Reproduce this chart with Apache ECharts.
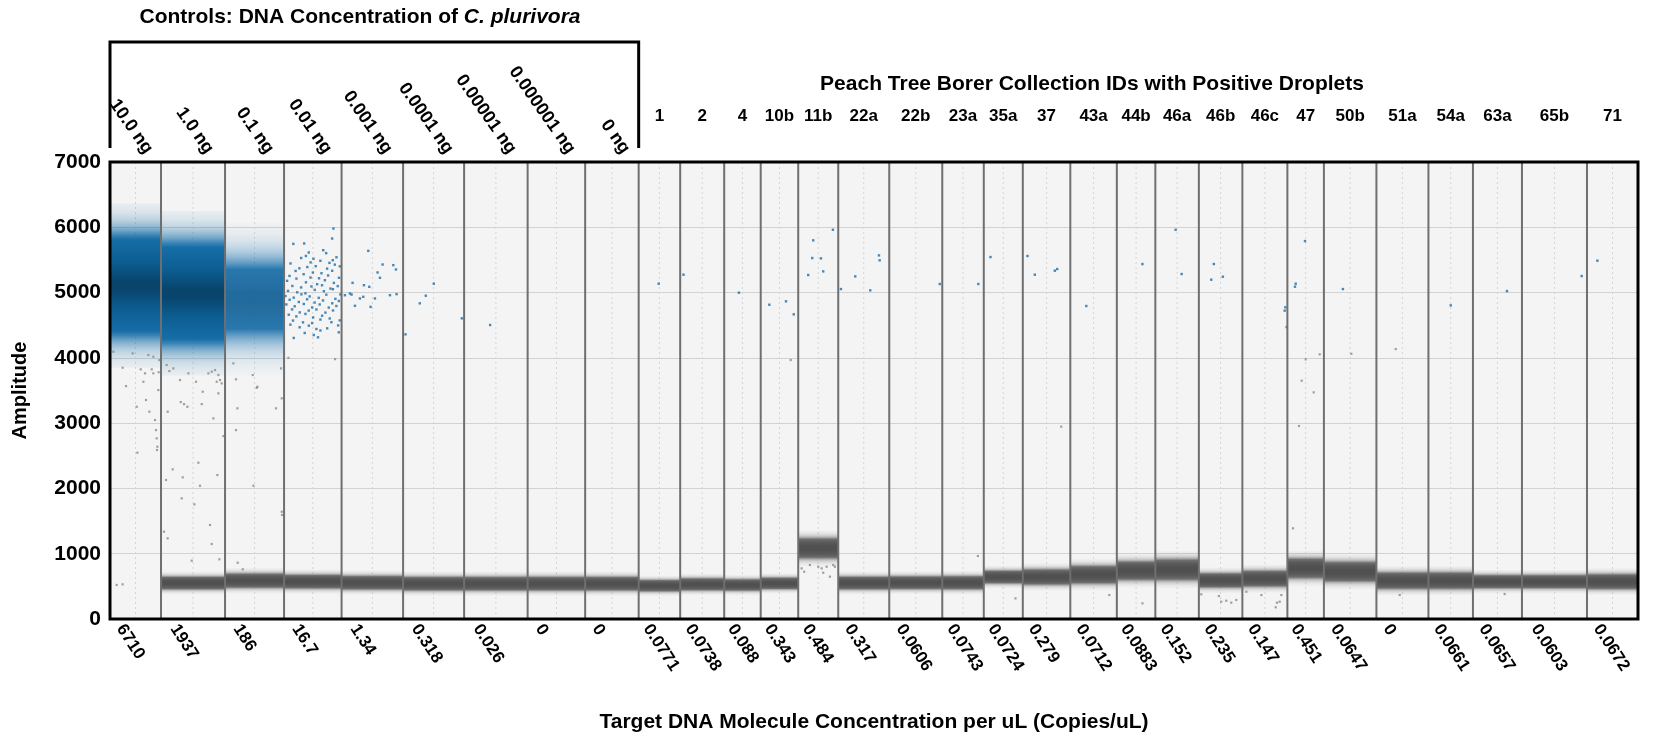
<!DOCTYPE html>
<html>
<head>
<meta charset="utf-8">
<script src="https://cdn.jsdelivr.net/npm/echarts@6/dist/echarts.min.js"></script>
<style>
  html, body { margin: 0; padding: 0; background: #ffffff; }
  #chart { width: 1654px; height: 735px; }
</style>
</head>
<body>
<div id="chart"></div>
<script>
// ---- Wells (controls first, then field samples) ----
const controlNames = ['10.0 ng', '1.0 ng', '0.1 ng', '0.01 ng', '0.001 ng', '0.0001 ng', '0.00001 ng', '0.000001 ng', '0 ng'];
const sampleNames = ['1', '2', '4', '10b', '11b', '22a', '22b', '23a', '35a', '37', '43a', '44b', '46a', '46b', '46c', '47', '50b', '51a', '54a', '63a', '65b', '71'];
const wellNames = controlNames.concat(sampleNames);

// accepted droplets per well (event count along the x axis)
const dropletCounts = [10200, 12800, 11800, 11500, 12300, 12200, 12700, 11500, 10700,
  8300, 8800, 7300, 7500, 8000, 10200, 10600, 8300, 7800, 9500, 9300, 7700, 8700, 8700, 9000, 7300, 10500, 10400, 8900, 9800, 13000, 10200];

// target concentration, copies/uL
const concentrations = ['6710', '1937', '186', '16.7', '1.34', '0.318', '0.026', '0', '0',
  '0.0771', '0.0738', '0.088', '0.343', '0.484', '0.317', '0.0606', '0.0743', '0.0724', '0.279', '0.0712', '0.0883', '0.152', '0.235', '0.147', '0.451', '0.0647', '0', '0.0661', '0.0657', '0.0603', '0.0672'];

// negative droplet cluster: mean amplitude and spread
const negCenter = [null, 551, 587, 572, 556, 541, 541, 541, 541,
  510, 531, 521, 546, 1083, 551, 556, 556, 643, 643, 679, 740, 755, 592, 618, 776, 725, 587, 587, 572, 572, 572];
const negSpread = [0, 58, 65, 62, 62, 62, 62, 62, 62,
  52, 55, 52, 52, 92, 58, 58, 60, 58, 70, 80, 85, 95, 65, 72, 90, 90, 75, 75, 60, 60, 68];

// saturated positive clusters in the high-template controls
const posCenter = [5110, 4990, 4900];
const posSpread = [420, 420, 390];
const posDensity = [4.5, 4.5, 1.8];

// individual positive droplets: [well, droplet index in well, amplitude]
const positiveDroplets = [
  ['0.01 ng', 9870, 5981], ['0.01 ng', 9610, 5828], ['0.01 ng', 1850, 5746], ['0.01 ng', 4020, 5752], ['0.01 ng', 4940, 5614],
  ['0.01 ng', 7830, 5649], ['0.01 ng', 8420, 5604], ['0.01 ng', 4370, 5561], ['0.01 ng', 3420, 5530], ['0.01 ng', 5880, 5518],
  ['0.01 ng', 10480, 5541], ['0.01 ng', 9740, 5496], ['0.01 ng', 1290, 5446], ['0.01 ng', 5310, 5462], ['0.01 ng', 7260, 5487],
  ['0.01 ng', 9080, 5455], ['0.01 ng', 3060, 5372], ['0.01 ng', 4650, 5391], ['0.01 ng', 6330, 5404], ['0.01 ng', 8610, 5366],
  ['0.01 ng', 10150, 5428], ['0.01 ng', 11150, 5402], ['0.01 ng', 2310, 5331], ['0.01 ng', 5760, 5307], ['0.01 ng', 7480, 5296],
  ['0.01 ng', 9620, 5334], ['0.01 ng', 1090, 5255], ['0.01 ng', 3920, 5281], ['0.01 ng', 5290, 5230], ['0.01 ng', 6990, 5219],
  ['0.01 ng', 8810, 5262], ['0.01 ng', 10980, 5226], ['0.01 ng', 610, 5180], ['0.01 ng', 2470, 5214], ['0.01 ng', 4380, 5157],
  ['0.01 ng', 6610, 5128], ['0.01 ng', 8160, 5189], ['0.01 ng', 9960, 5148], ['0.01 ng', 1660, 5101], ['0.01 ng', 3410, 5079],
  ['0.01 ng', 5470, 5094], ['0.01 ng', 7590, 5112], ['0.01 ng', 9280, 5061], ['0.01 ng', 10730, 5099], ['0.01 ng', 790, 5026],
  ['0.01 ng', 2620, 5004], ['0.01 ng', 4270, 4988], ['0.01 ng', 6140, 5041], ['0.01 ng', 7960, 5021], ['0.01 ng', 9770, 5052],
  ['0.01 ng', 11260, 4971], ['0.01 ng', 280, 4947], ['0.01 ng', 1930, 4922], ['0.01 ng', 3470, 4973], ['0.01 ng', 5130, 4941],
  ['0.01 ng', 6930, 4919], ['0.01 ng', 8450, 4968], ['0.01 ng', 10260, 4904], ['0.01 ng', 1120, 4890], ['0.01 ng', 2950, 4856],
  ['0.01 ng', 4610, 4897], ['0.01 ng', 6110, 4847], ['0.01 ng', 7790, 4879], ['0.01 ng', 9630, 4836], ['0.01 ng', 10950, 4871],
  ['0.01 ng', 460, 4818], ['0.01 ng', 2130, 4790], ['0.01 ng', 3950, 4825], ['0.01 ng', 5620, 4772], ['0.01 ng', 7120, 4818],
  ['0.01 ng', 8940, 4770], ['0.01 ng', 10460, 4794], ['0.01 ng', 1610, 4742], ['0.01 ng', 3130, 4696], ['0.01 ng', 4930, 4724],
  ['0.01 ng', 6470, 4741], ['0.01 ng', 8270, 4693], ['0.01 ng', 9790, 4726], ['0.01 ng', 940, 4661], ['0.01 ng', 2460, 4635],
  ['0.01 ng', 4280, 4673], ['0.01 ng', 5810, 4619], ['0.01 ng', 7610, 4645], ['0.01 ng', 9130, 4603], ['0.01 ng', 1790, 4571],
  ['0.01 ng', 3790, 4544], ['0.01 ng', 5610, 4533], ['0.01 ng', 7270, 4587], ['0.01 ng', 9470, 4546], ['0.01 ng', 11130, 4574],
  ['0.01 ng', 1260, 4509], ['0.01 ng', 3120, 4468], ['0.01 ng', 4950, 4493], ['0.01 ng', 6470, 4442], ['0.01 ng', 8620, 4452],
  ['0.01 ng', 10810, 4497], ['0.01 ng', 4130, 4381], ['0.01 ng', 5940, 4350], ['0.01 ng', 7270, 4419], ['0.01 ng', 1940, 4305],
  ['0.01 ng', 6790, 4315], ['0.01 ng', 10940, 4391],
  ['0.001 ng', 5340, 5639], ['0.001 ng', 8200, 5430], ['0.001 ng', 10340, 5420], ['0.001 ng', 10870, 5354], ['0.001 ng', 7200, 5308],
  ['0.001 ng', 7670, 5226], ['0.001 ng', 2200, 5149], ['0.001 ng', 4470, 5113], ['0.001 ng', 5540, 5088], ['0.001 ng', 670, 4960],
  ['0.001 ng', 1670, 4986], ['0.001 ng', 2000, 4970], ['0.001 ng', 3670, 4910], ['0.001 ng', 4340, 4935], ['0.001 ng', 6670, 4910],
  ['0.001 ng', 9670, 4960], ['0.001 ng', 11000, 4976], ['0.001 ng', 2670, 4797], ['0.001 ng', 5800, 4781],
  ['0.0001 ng', 480, 4360], ['0.0001 ng', 3340, 4835], ['0.0001 ng', 4540, 4952], ['0.0001 ng', 6140, 5136], ['0.0001 ng', 11740, 4605],
  ['0.00001 ng', 5200, 4503],
  ['1', 4000, 5136], ['2', 660, 5274], ['4', 2940, 4998],
  ['10b', 1720, 4814], ['10b', 5060, 4866], ['10b', 6600, 4667],
  ['11b', 3000, 5800], ['11b', 2800, 5529], ['11b', 4540, 5524], ['11b', 2000, 5269], ['11b', 5000, 5325], ['11b', 6940, 5962],
  ['22a', 540, 5054], ['22a', 3400, 5248], ['22a', 6400, 5034], ['22a', 8140, 5570], ['22a', 8280, 5494],
  ['22b', 10100, 5131], ['23a', 7200, 5131], ['35a', 1340, 5544],
  ['37', 940, 5560], ['37', 2400, 5274], ['37', 6400, 5335], ['37', 6880, 5360],
  ['43a', 3200, 4794], ['44b', 5120, 5437], ['46a', 4060, 5962], ['46a', 5260, 5284],
  ['46b', 3000, 5437], ['46b', 2480, 5197], ['46b', 4800, 5243],
  ['46c', 8600, 4774], ['46c', 8460, 4723], ['46c', 8860, 4472],
  ['47', 3520, 5789], ['47', 1660, 5136], ['47', 1520, 5090],
  ['50b', 3800, 5054], ['54a', 4460, 4804], ['63a', 6800, 5023], ['65b', 11940, 5253], ['71', 2080, 5488]
];

// rain and outlying negative droplets: [well, droplet index in well, amplitude]
const otherDroplets = [
  ['10.0 ng', 670, 4094], ['10.0 ng', 2530, 3849], ['10.0 ng', 3200, 3568], ['10.0 ng', 4540, 4069], ['10.0 ng', 5340, 3251],
  ['10.0 ng', 5470, 2547], ['10.0 ng', 6670, 3634], ['10.0 ng', 6140, 3824], ['10.0 ng', 7000, 3763], ['10.0 ng', 7200, 3354],
  ['10.0 ng', 7870, 3175], ['10.0 ng', 8340, 3824], ['10.0 ng', 8670, 3763], ['10.0 ng', 9000, 3047], ['10.0 ng', 9200, 2894],
  ['10.0 ng', 9340, 2767], ['10.0 ng', 9470, 2639], ['10.0 ng', 9400, 2588], ['10.0 ng', 9670, 3507], ['10.0 ng', 9720, 3780],
  ['10.0 ng', 9870, 3966], ['10.0 ng', 7670, 4043], ['10.0 ng', 8670, 4017], ['10.0 ng', 1330, 521], ['10.0 ng', 2530, 531],
  ['1.0 ng', 1130, 3890], ['1.0 ng', 1670, 3798], ['1.0 ng', 2470, 3839], ['1.0 ng', 3800, 3660], ['1.0 ng', 5470, 3763],
  ['1.0 ng', 7000, 3634], ['1.0 ng', 3940, 3323], ['1.0 ng', 4600, 3292], ['1.0 ng', 5270, 3251], ['1.0 ng', 8140, 3292],
  ['1.0 ng', 1330, 3175], ['1.0 ng', 8340, 3481], ['1.0 ng', 9470, 3763], ['1.0 ng', 10140, 3788], ['1.0 ng', 10800, 3813],
  ['1.0 ng', 11470, 3737], ['1.0 ng', 11140, 3634], ['1.0 ng', 11800, 3660], ['1.0 ng', 12140, 3609], ['1.0 ng', 11470, 3456],
  ['1.0 ng', 10470, 3073], ['1.0 ng', 12470, 2802], ['1.0 ng', 2330, 2292], ['1.0 ng', 1000, 2129], ['1.0 ng', 4340, 2170],
  ['1.0 ng', 7800, 2041], ['1.0 ng', 7470, 2394], ['1.0 ng', 4140, 1848], ['1.0 ng', 6670, 1756], ['1.0 ng', 9800, 1440],
  ['1.0 ng', 10140, 1149], ['1.0 ng', 11270, 2205], ['1.0 ng', 600, 1337], ['1.0 ng', 1330, 1236], ['1.0 ng', 6140, 893],
  ['1.0 ng', 11670, 914],
  ['0.1 ng', 1670, 3916], ['0.1 ng', 2200, 3671], ['0.1 ng', 2470, 3227], ['0.1 ng', 2200, 2894], ['0.1 ng', 5540, 3737],
  ['0.1 ng', 6340, 3542], ['0.1 ng', 5670, 2041], ['0.1 ng', 2530, 862], ['0.1 ng', 3540, 761], ['0.1 ng', 10200, 3227],
  ['0.1 ng', 11200, 3839], ['0.1 ng', 11340, 3380], ['0.1 ng', 11340, 1643], ['0.1 ng', 11400, 1593], ['0.1 ng', 6470, 3557],
  ['0.01 ng', 870, 4000], ['0.01 ng', 10200, 3980],
  ['10b', 6000, 3967],
  ['11b', 680, 776], ['11b', 1200, 724], ['11b', 2340, 827], ['11b', 4000, 801], ['11b', 4680, 776],
  ['11b', 5000, 709], ['11b', 5680, 801], ['11b', 6340, 648], ['11b', 7000, 827], ['11b', 7340, 801],
  ['23a', 7120, 965], ['35a', 6340, 316], ['37', 7680, 2946], ['43a', 7800, 367], ['44b', 5120, 240],
  ['46b', 480, 378], ['46b', 4000, 352], ['46b', 4480, 265], ['46b', 5480, 280], ['46b', 6480, 250], ['46b', 7480, 291],
  ['46c', 3800, 367], ['46c', 6660, 179], ['46c', 6920, 250], ['46c', 7460, 265], ['46c', 7800, 367], ['46c', 800, 418],
  ['47', 3660, 3977], ['47', 6460, 4054], ['47', 2860, 3650], ['47', 5260, 3472], ['47', 2320, 2956], ['47', 1120, 1389],
  ['50b', 5480, 4063], ['51a', 3860, 4135], ['51a', 4660, 367], ['63a', 6340, 383]
];

const amplitudeTicks = [0, 1000, 2000, 3000, 4000, 5000, 6000, 7000];

// ---- derived layout values along the event axis ----
const FONT = '"Liberation Sans", Arial, Helvetica, sans-serif';
const wellStart = [];
let runningTotal = 0;
dropletCounts.forEach(c => { wellStart.push(runningTotal); runningTotal += c; });
const totalDroplets = runningTotal;
const nControls = controlNames.length;
const ampMin = amplitudeTicks[0];
const ampMax = amplitudeTicks[amplitudeTicks.length - 1];

const wellCenter = wellStart.map((s, i) => s + dropletCounts[i] / 2);
const concAnchor = wellStart.map((s, i) => s + dropletCounts[i] * 0.2);
const controlAnchor = wellStart.slice(0, nControls).map((s, i) => s + dropletCounts[i] * 0.76);
const sampleAnchor = wellCenter.slice(nControls);

function nearestIndex(list, v) {
  let best = 0, d = Infinity;
  list.forEach((x, i) => { const dd = Math.abs(x - v); if (dd < d) { d = dd; best = i; } });
  return best;
}

function toPoint(rec) {
  const w = wellNames.indexOf(rec[0]);
  return [wellStart[w] + rec[1], rec[2]];
}

// ---- density bands for the dense droplet clusters ----
const blueTones = { knots: [0.15, 0.8, 1.8], colors: [[8, 68, 108], [12, 92, 144], [24, 112, 170]], maxAlpha: 1 };
const blueTonesThin = { knots: [0.2, 0.9, 1.8], colors: [[12, 92, 148], [16, 102, 160], [26, 116, 176]], maxAlpha: 0.9 };
const greyTones = { knots: [0.3, 1.0, 2.0], colors: [[80, 80, 80], [90, 90, 90], [130, 130, 130]], maxAlpha: 1 };

function mixRGB(a, b, t) { return a.map((v, k) => Math.round(v + (b[k] - v) * t)); }
function toneAt(tones, az) {
  const kn = tones.knots, cs = tones.colors;
  if (az <= kn[0]) return cs[0];
  for (let k = 1; k < kn.length; k++) {
    if (az <= kn[k]) return mixRGB(cs[k - 1], cs[k], (az - kn[k - 1]) / (kn[k] - kn[k - 1]));
  }
  return cs[cs.length - 1];
}
function densityBand(x0, x1, center, sd, density, tones, api) {
  const yTop = api.coord([0, center + 3 * sd])[1];
  const yBot = api.coord([0, center - 3 * sd])[1];
  const stops = [];
  const steps = 36;
  for (let s = 0; s <= steps; s++) {
    const z = 3 - 6 * s / steps;
    const a = Math.min(tones.maxAlpha, density * Math.exp(-z * z / 2));
    const c = toneAt(tones, Math.abs(z));
    stops.push({ offset: s / steps, color: 'rgba(' + c[0] + ',' + c[1] + ',' + c[2] + ',' + a.toFixed(3) + ')' });
  }
  return {
    type: 'rect',
    shape: { x: x0, y: yTop, width: x1 - x0, height: yBot - yTop },
    style: { fill: { type: 'linear', x: 0, y: 0, x2: 0, y2: 1, colorStops: stops, global: false } }
  };
}

function renderWell(params, api) {
  const i = api.value(4);
  const x0 = api.coord([api.value(0), ampMin])[0];
  const x1 = api.coord([api.value(1), ampMin])[0];
  const yTop = api.coord([0, ampMax])[1];
  const yBot = api.coord([0, ampMin])[1];
  const xm = (x0 + x1) / 2;
  const children = [{
    type: 'line', shape: { x1: xm, y1: yTop, x2: xm, y2: yBot },
    style: { stroke: '#d4d4d4', lineWidth: 1, lineDash: [2, 3] }
  }];
  if (negCenter[i] != null) children.push(densityBand(x0, x1, negCenter[i], negSpread[i], 3.2, greyTones, api));
  if (i < posCenter.length) children.push(densityBand(x0, x1, posCenter[i], posSpread[i], posDensity[i], posDensity[i] > 2 ? blueTones : blueTonesThin, api));
  return { type: 'group', children: children };
}

function renderDivider(params, api) {
  const x = api.coord([api.value(0), ampMin])[0];
  const yTop = api.coord([0, ampMax])[1];
  const yBot = api.coord([0, ampMin])[1];
  return { type: 'line', shape: { x1: x, y1: yTop, x2: x, y2: yBot }, style: { stroke: '#6f6f6f', lineWidth: 2 } };
}

function renderFrame(params, api) {
  const p0 = api.coord([0, ampMax]);
  const p1 = api.coord([totalDroplets, ampMin]);
  return { type: 'rect', shape: { x: p0[0], y: p0[1], width: p1[0] - p0[0], height: p1[1] - p0[1] },
    style: { fill: 'none', stroke: '#000', lineWidth: 3 } };
}

// bracket spanning the control wells, drawn above the plot
function renderBracket(params, api) {
  const a = api.coord([api.value(0), ampMax]);
  const b = api.coord([api.value(1), ampMax]);
  const top = a[1] - 120, low = a[1] - 14;
  return { type: 'polyline', shape: { points: [[a[0], low], [a[0], top], [b[0], top], [b[0], low]] },
    style: { fill: 'none', stroke: '#000', lineWidth: 3 } };
}

const wellItems = wellStart.map((s, i) => [s, s + dropletCounts[i], ampMin, ampMax, i]);
const dividerItems = wellStart.slice(1).map(s => [s, ampMin]);

const chart = echarts.init(document.getElementById('chart'), null, { renderer: 'canvas' });
chart.setOption({
  animation: false,
  backgroundColor: '#ffffff',
  textStyle: { fontFamily: FONT },
  grid: { left: 110, right: 16, top: 162, bottom: 116, show: true, backgroundColor: '#f4f4f4', borderWidth: 0, outerBoundsMode: 'none' },
  graphic: [
    { type: 'text', x: 360, y: 17, style: {
        text: '{b|Controls: DNA Concentration of }{bi|C. plurivora}',
        rich: {
          b: { fontSize: 21, fontWeight: 'bold', fontFamily: FONT, fill: '#000' },
          bi: { fontSize: 21, fontWeight: 'bold', fontStyle: 'italic', fontFamily: FONT, fill: '#000' }
        },
        align: 'center', verticalAlign: 'middle' } },
    { type: 'text', x: 1092, y: 84, style: {
        text: 'Peach Tree Borer Collection IDs with Positive Droplets',
        fontSize: 21, fontWeight: 'bold', fontFamily: FONT, fill: '#000',
        align: 'center', verticalAlign: 'middle' } }
  ],
  xAxis: [
    {
      type: 'value', position: 'bottom', min: 0, max: totalDroplets,
      axisLine: { show: false }, axisTick: { show: false }, splitLine: { show: false },
      axisLabel: {
        customValues: concAnchor, rotate: -57, margin: 7,
        formatter: v => concentrations[nearestIndex(concAnchor, v)],
        fontSize: 17, fontWeight: 'bold', color: '#000', fontFamily: FONT
      },
      name: 'Target DNA Molecule Concentration per uL (Copies/uL)', nameLocation: 'middle', nameGap: 93,
      nameTextStyle: { fontSize: 21, fontWeight: 'bold', color: '#000', fontFamily: FONT }
    },
    {
      type: 'value', position: 'top', min: 0, max: totalDroplets,
      axisLine: { show: false }, axisTick: { show: false }, splitLine: { show: false },
      axisLabel: {
        customValues: sampleAnchor, margin: 37,
        formatter: v => sampleNames[nearestIndex(sampleAnchor, v)],
        fontSize: 17, fontWeight: 'bold', color: '#000', fontFamily: FONT
      }
    },
    {
      type: 'value', position: 'top', min: 0, max: totalDroplets,
      axisLine: { show: false }, axisTick: { show: false }, splitLine: { show: false },
      axisLabel: {
        customValues: controlAnchor, rotate: 55, margin: 10,
        formatter: v => controlNames[nearestIndex(controlAnchor, v)],
        fontSize: 18, fontWeight: 'bold', color: '#000', fontFamily: FONT
      }
    }
  ],
  yAxis: [{
    type: 'value', min: ampMin, max: ampMax, interval: 1000,
    axisLine: { show: false }, axisTick: { show: false },
    splitLine: { show: true, lineStyle: { color: '#d2d2d2', width: 1 } },
    axisLabel: { margin: 9, fontSize: 21, fontWeight: 'bold', color: '#000', fontFamily: FONT, formatter: v => String(v) },
    name: 'Amplitude', nameLocation: 'middle', nameGap: 80, nameRotate: 90,
    nameTextStyle: { fontSize: 20, fontWeight: 'bold', color: '#000', fontFamily: FONT }
  }],
  series: [
    {
      type: 'custom', name: 'wells', renderItem: renderWell, data: wellItems, z: 1,
      encode: { x: [0, 1], y: [2, 3] }, clip: true, silent: true
    },
    {
      type: 'scatter', name: 'negative / rain', data: otherDroplets.map(toPoint), z: 2,
      symbol: 'rect', symbolSize: 2.2, itemStyle: { color: '#8a8a8a' }, silent: true
    },
    {
      type: 'scatter', name: 'positive', data: positiveDroplets.map(toPoint), z: 3,
      symbol: 'rect', symbolSize: 2.4, itemStyle: { color: '#1a6da6' }, silent: true
    },
    {
      type: 'custom', name: 'dividers', renderItem: renderDivider, data: dividerItems, z: 4,
      encode: { x: 0, y: 1 }, silent: true
    },
    {
      type: 'custom', name: 'frame', renderItem: renderFrame, data: [[0, ampMin]], z: 6,
      encode: { x: 0, y: 1 }, silent: true, clip: false
    },
    {
      type: 'custom', name: 'controls bracket', renderItem: renderBracket,
      data: [[0, wellStart[nControls], ampMax]], z: 6,
      encode: { x: [0, 1], y: 2 }, silent: true, clip: false
    }
  ]
});
</script>
</body>
</html>
